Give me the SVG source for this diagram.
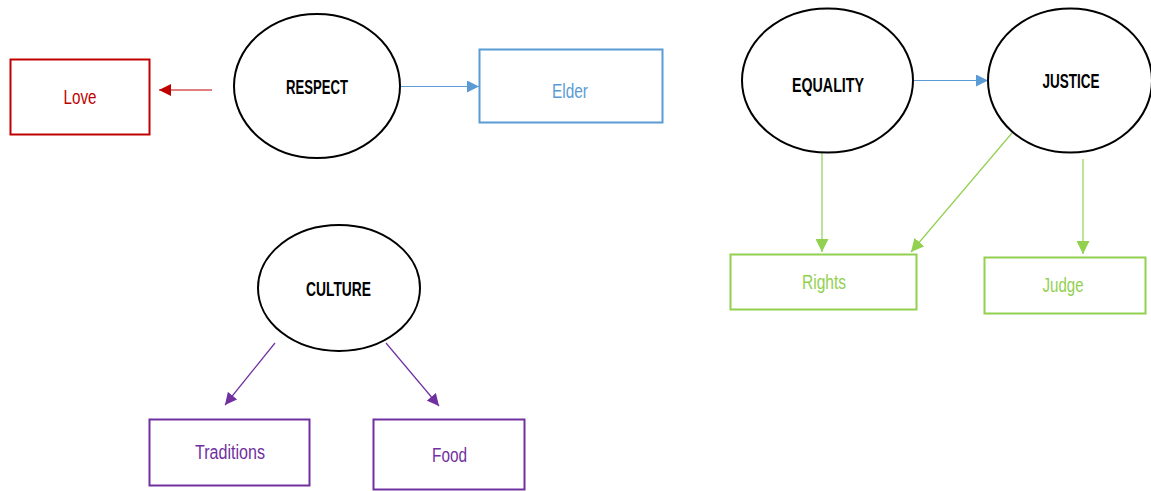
<svg xmlns="http://www.w3.org/2000/svg" width="1151" height="491" viewBox="0 0 1151 491">
  <style>
    text { font-family: "Liberation Sans", Arial, sans-serif; text-anchor: middle; }
    .concept { fill: #fff; stroke: #000; stroke-width: 2; }
    .hub { font-size: 21px; font-weight: bold; fill: #000; }
    .leaf { font-size: 20px; }
    .box { fill: #fff; stroke-width: 2; }
    .red { stroke: #C00000; }
    .blue { stroke: #5B9BD5; }
    .green { stroke: #92D050; }
    .purple { stroke: #7030A0; }
    .link { fill: none; stroke-width: 1.2; }
  </style>
  <defs>
    <marker id="ahRed" viewBox="0 0 10 10" refX="10" refY="5" markerWidth="12" markerHeight="12" markerUnits="userSpaceOnUse" orient="auto">
      <path d="M0,0 L10,5 L0,10 z" fill="#C00000"/>
    </marker>
    <marker id="ahBlue" viewBox="0 0 10 10" refX="10" refY="5" markerWidth="12" markerHeight="12" markerUnits="userSpaceOnUse" orient="auto">
      <path d="M0,0 L10,5 L0,10 z" fill="#5B9BD5"/>
    </marker>
    <marker id="ahGreen" viewBox="0 0 10 10" refX="10" refY="5" markerWidth="13" markerHeight="13" markerUnits="userSpaceOnUse" orient="auto">
      <path d="M0,0 L10,5 L0,10 z" fill="#92D050"/>
    </marker>
    <marker id="ahPurple" viewBox="0 0 10 10" refX="10" refY="5" markerWidth="12" markerHeight="12" markerUnits="userSpaceOnUse" orient="auto">
      <path d="M0,0 L10,5 L0,10 z" fill="#7030A0"/>
    </marker>
  </defs>

  <rect width="1151" height="491" fill="#fff"/>

  <!-- connectors -->
  <g id="connectors">
    <line class="link red" x1="212" y1="90" x2="159" y2="90" marker-end="url(#ahRed)"/>
    <line class="link blue" x1="400" y1="86.5" x2="479" y2="86.5" marker-end="url(#ahBlue)"/>
    <line class="link blue" x1="913" y1="80.5" x2="988" y2="80.5" marker-end="url(#ahBlue)"/>
    <line class="link green" x1="822" y1="153" x2="822" y2="252" marker-end="url(#ahGreen)"/>
    <line class="link green" x1="1012" y1="133" x2="911" y2="252" marker-end="url(#ahGreen)"/>
    <line class="link green" x1="1083" y1="159" x2="1083" y2="254" marker-end="url(#ahGreen)"/>
    <line class="link purple" x1="275" y1="343" x2="225" y2="405" marker-end="url(#ahPurple)"/>
    <line class="link purple" x1="386" y1="343" x2="439" y2="406" marker-end="url(#ahPurple)"/>
  </g>

  <!-- RESPECT cluster -->
  <g id="respect">
    <ellipse class="concept" cx="317" cy="86" rx="83" ry="72"/>
    <text class="hub" x="317" y="94" textLength="62" lengthAdjust="spacingAndGlyphs">RESPECT</text>
  </g>
  <g id="love">
    <rect class="box red" x="10.5" y="59.5" width="139" height="75"/>
    <text class="leaf" x="80" y="104" fill="#C00000" textLength="33" lengthAdjust="spacingAndGlyphs">Love</text>
  </g>
  <g id="elder">
    <rect class="box blue" x="479.5" y="49.5" width="183" height="73"/>
    <text class="leaf" x="570" y="98" fill="#5B9BD5" textLength="36" lengthAdjust="spacingAndGlyphs">Elder</text>
  </g>

  <!-- EQUALITY / JUSTICE cluster -->
  <g id="equality">
    <ellipse class="concept" cx="827.5" cy="80.5" rx="85.5" ry="72"/>
    <text class="hub" x="828" y="92" textLength="72" lengthAdjust="spacingAndGlyphs">EQUALITY</text>
  </g>
  <g id="justice">
    <ellipse class="concept" cx="1070" cy="80.5" rx="82" ry="72"/>
    <text class="hub" x="1071" y="88" textLength="57" lengthAdjust="spacingAndGlyphs">JUSTICE</text>
  </g>
  <g id="rights">
    <rect class="box green" x="730.5" y="254.5" width="186" height="55"/>
    <text class="leaf" x="824" y="289" fill="#92D050" textLength="44" lengthAdjust="spacingAndGlyphs">Rights</text>
  </g>
  <g id="judge">
    <rect class="box green" x="984.5" y="257.5" width="161" height="56"/>
    <text class="leaf" x="1063" y="292" fill="#92D050" textLength="41" lengthAdjust="spacingAndGlyphs">Judge</text>
  </g>

  <!-- CULTURE cluster -->
  <g id="culture">
    <ellipse class="concept" cx="339" cy="288" rx="81" ry="63"/>
    <text class="hub" x="338.5" y="296" textLength="65" lengthAdjust="spacingAndGlyphs">CULTURE</text>
  </g>
  <g id="traditions">
    <rect class="box purple" x="149.5" y="419.5" width="160" height="66"/>
    <text class="leaf" x="230" y="459" fill="#7030A0" textLength="70" lengthAdjust="spacingAndGlyphs">Traditions</text>
  </g>
  <g id="food">
    <rect class="box purple" x="373.5" y="419.5" width="151" height="70"/>
    <text class="leaf" x="449.5" y="462" fill="#7030A0" textLength="35" lengthAdjust="spacingAndGlyphs">Food</text>
  </g>
</svg>
